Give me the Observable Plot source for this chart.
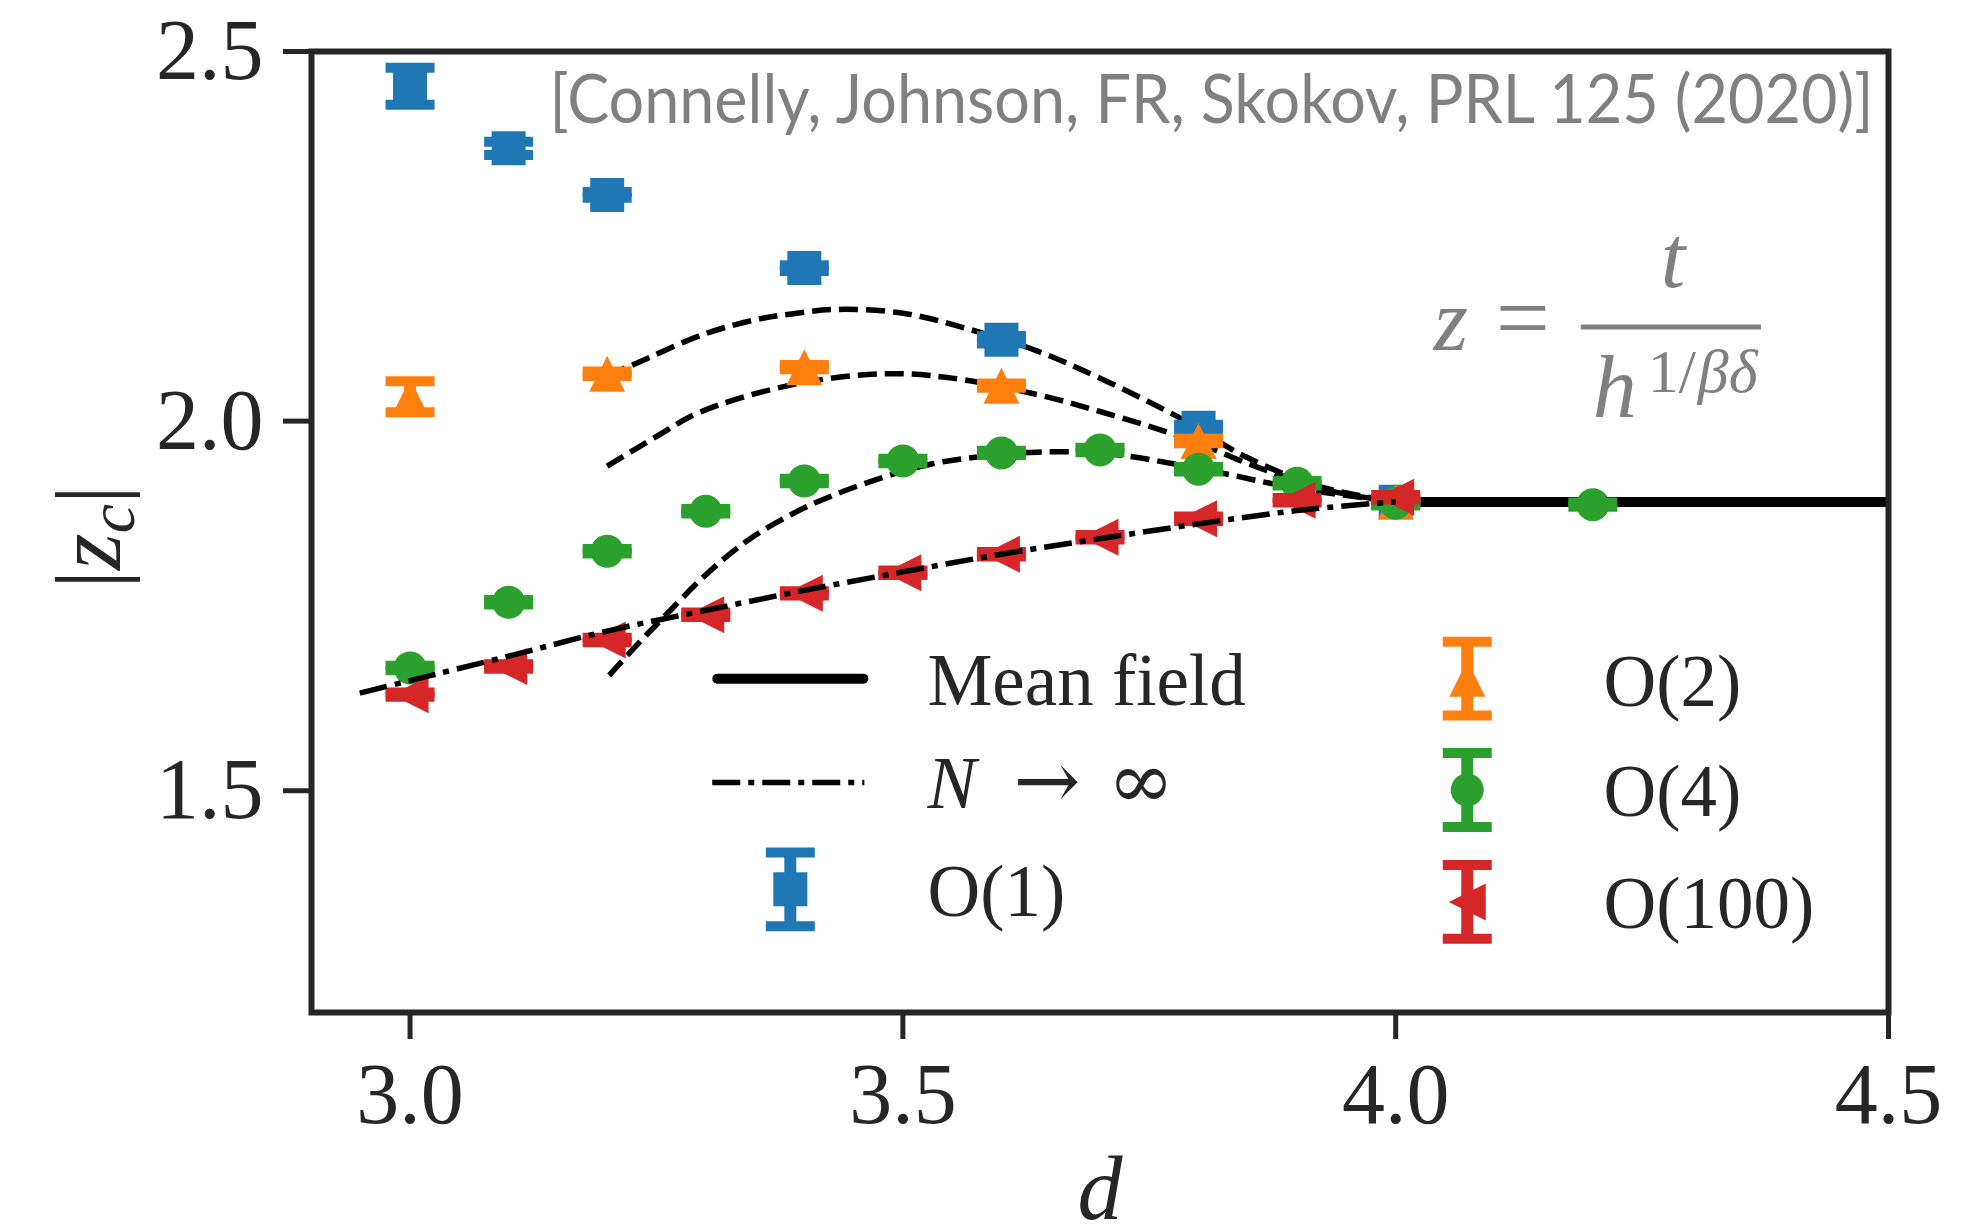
<!DOCTYPE html>
<html><head><meta charset="utf-8">
<script src="https://cdn.jsdelivr.net/npm/d3@7"></script>
<script src="https://cdn.jsdelivr.net/npm/@observablehq/plot@0.6"></script>
<style>
html,body{margin:0;padding:0;background:#fff;}
#chart{width:1968px;height:1224px;}
</style></head><body><div id="chart"></div>
<script>
// ---------- data ----------
const xTicks = [3.0, 3.5, 4.0, 4.5];
const yTicks = [1.5, 2.0, 2.5];

const o1D = [3.0, 3.1, 3.2, 3.4, 3.6, 3.8, 4.0];
const o1Z = [2.453, 2.369, 2.306, 2.207, 2.110, 1.991, 1.891];
const o1E = [0.025, 0.009, 0.004, 0.004, 0.005, 0.004, 0.003];

const o2D = [3.0, 3.2, 3.4, 3.6, 3.8, 4.0];
const o2Z = [2.033, 2.064, 2.073, 2.048, 1.973, 1.891];
const o2E = [0.021, 0.003, 0.003, 0.003, 0.003, 0.003];

const o4D = [3.0, 3.1, 3.2, 3.3, 3.4, 3.5, 3.6, 3.7, 3.8, 3.9, 4.0, 4.2];
const o4Z = [1.666, 1.755, 1.824, 1.878, 1.919, 1.946, 1.957, 1.961, 1.935, 1.916, 1.889, 1.887];
const o4E = [0.003, 0.003, 0.003, 0.003, 0.003, 0.003, 0.003, 0.003, 0.003, 0.003, 0.003, 0.003];

const o100D = [3.0, 3.1, 3.2, 3.3, 3.4, 3.5, 3.6, 3.7, 3.8, 3.9, 4.0];
const o100Z = [1.630, 1.668, 1.704, 1.738, 1.767, 1.795, 1.820, 1.843, 1.868, 1.893, 1.897];
const o100E = [0.003, 0.003, 0.003, 0.003, 0.003, 0.003, 0.003, 0.003, 0.003, 0.003, 0.003];

const meanFieldD = [4.0, 4.5];
const meanFieldZ = [1.8905, 1.8905];

const largeND = [2.949, 3.0, 3.1, 3.2, 3.3, 3.4, 3.5, 3.6, 3.7, 3.8, 3.9, 4.0];
const largeNZ = [1.632, 1.649, 1.682, 1.716, 1.744, 1.771, 1.796, 1.820, 1.841, 1.861, 1.879, 1.891];

const fit1D = [3.2, 3.224, 3.297, 3.35, 3.387, 3.43, 3.5, 3.568, 3.636, 3.70, 3.78, 3.849, 3.924, 4.0];
const fit1Z = [2.062, 2.075, 2.117, 2.137, 2.145, 2.151, 2.146, 2.124, 2.095, 2.058, 2.005, 1.951, 1.911, 1.891];

const fit2D = [3.2, 3.251, 3.294, 3.387, 3.48, 3.545, 3.636, 3.70, 3.786, 3.861, 3.936, 4.0];
const fit2Z = [1.939, 1.980, 2.012, 2.049, 2.064, 2.059, 2.036, 2.013, 1.977, 1.937, 1.905, 1.891];

const fit3D = [3.202, 3.23, 3.259, 3.30, 3.344, 3.39, 3.43, 3.48, 3.529, 3.58, 3.636, 3.707, 3.8, 3.9, 4.0];
const fit3Z = [1.656, 1.697, 1.737, 1.792, 1.840, 1.876, 1.900, 1.924, 1.942, 1.952, 1.958, 1.956, 1.936, 1.909, 1.891];

const seriesNames = ["O(1)", "O(2)", "O(4)", "O(100)"];
const citation = "[Connelly, Johnson, FR, Skokov, PRL 125 (2020)]";

// ---------- helpers ----------
const zip = (xs, ys) => xs.map((x, i) => ({x, y: ys[i]}));
const rows = (ds, zs, es) => ds.map((d, i) => ({d, z: zs[i], e: es[i]}));

const symSquare = {draw(c, s) { const r = Math.sqrt(s / Math.PI); c.rect(-r, -r, 2 * r, 2 * r); }};
const symTriUp = {draw(c, s) { const r = Math.sqrt(s / Math.PI); c.moveTo(0, -r); c.lineTo(r, r); c.lineTo(-r, r); c.closePath(); }};
const symTriLeft = {draw(c, s) { const r = Math.sqrt(s / Math.PI); c.moveTo(-r, 0); c.lineTo(r, -r); c.lineTo(r, r); c.closePath(); }};
const symCap = {draw(c, s) { c.rect(-24.5, -5, 49, 10); }};

const styles = [
  {color: "#1f77b4", symbol: symSquare, r: 17},
  {color: "#ff7f0e", symbol: symTriUp, r: 18},
  {color: "#2ca02c", symbol: "circle", r: 16.5},
  {color: "#d62728", symbol: symTriLeft, r: 18.5}
];
const seriesData = [rows(o1D, o1Z, o1E), rows(o2D, o2Z, o2E), rows(o4D, o4Z, o4E), rows(o100D, o100Z, o100E)];

function errorbarMarks(data, st) {
  return [
    Plot.ruleX(data, {x: "d", y1: r => r.z - r.e, y2: r => r.z + r.e, stroke: st.color, strokeWidth: 12}),
    Plot.dot(data, {x: "d", y: r => r.z + r.e, symbol: symCap, r: 1, fill: st.color}),
    Plot.dot(data, {x: "d", y: r => r.z - r.e, symbol: symCap, r: 1, fill: st.color}),
    Plot.dot(data, {x: "d", y: "z", symbol: st.symbol, r: st.r, fill: st.color})
  ];
}

// legend layout (data coordinates)
const legendSeriesPos = [
  {x: 3.3858, y: 1.3666, tx: 3.5249, ty: 1.331},
  {x: 4.0726, y: 1.6516, tx: 4.2109, ty: 1.6149},
  {x: 4.0726, y: 1.501, tx: 4.2109, ty: 1.4653},
  {x: 4.0726, y: 1.3496, tx: 4.2109, ty: 1.3144}
];
const one = [0];
const dark = "#262626";
const gray = "#808080";

const legendMarks = legendSeriesPos.flatMap((p, i) => {
  const st = styles[i];
  const e = 0.05;
  return [
    Plot.ruleX(one, {x: () => p.x, y1: () => p.y - e, y2: () => p.y + e, stroke: st.color, strokeWidth: 12}),
    Plot.dot(one, {x: () => p.x, y: () => p.y + e, symbol: symCap, r: 1, fill: st.color}),
    Plot.dot(one, {x: () => p.x, y: () => p.y - e, symbol: symCap, r: 1, fill: st.color}),
    Plot.dot(one, {x: () => p.x, y: () => p.y, symbol: st.symbol, r: st.r, fill: st.color}),
    Plot.text(one, {x: () => p.tx, y: () => p.ty, text: () => seriesNames[i], textAnchor: "start", lineAnchor: "bottom", fontSize: 73, fill: dark})
  ];
});

const dashed = {stroke: "black", strokeWidth: 5.5, strokeDasharray: "19,8", strokeLinecap: "butt", curve: "catmull-rom"};

const chart = Plot.plot({
  width: 1968,
  height: 1224,
  marginLeft: 311,
  marginRight: 80,
  marginTop: 51,
  marginBottom: 212,
  style: {fontFamily: "'Liberation Serif', serif", background: "white", overflow: "visible"},
  x: {domain: [2.9, 4.5]},
  y: {domain: [1.2, 2.5]},
  marks: [
    Plot.line(zip(meanFieldD, meanFieldZ), {x: "x", y: "y", stroke: "black", strokeWidth: 10, strokeLinecap: "butt"}),
    Plot.line(zip(fit1D, fit1Z), {x: "x", y: "y", ...dashed}),
    Plot.line(zip(fit2D, fit2Z), {x: "x", y: "y", ...dashed}),
    Plot.line(zip(fit3D, fit3Z), {x: "x", y: "y", ...dashed}),
    ...seriesData.flatMap((data, i) => errorbarMarks(data, styles[i])),
    Plot.line(zip(largeND, largeNZ), {x: "x", y: "y", stroke: "black", strokeWidth: 5.5, strokeDasharray: "28,8,6,8", strokeLinecap: "butt", curve: "catmull-rom"}),

    // legend: line entries
    Plot.link(one, {x1: () => 3.3117, x2: () => 3.4599, y1: () => 1.6514, y2: () => 1.6514, stroke: "black", strokeWidth: 10, strokeLinecap: "round"}),
    Plot.text(one, {x: () => 3.5249, y: () => 1.6162, text: () => "Mean field", textAnchor: "start", lineAnchor: "bottom", fontSize: 73, fill: dark}),
    Plot.link(one, {x1: () => 3.3066, x2: () => 3.4609, y1: () => 1.5112, y2: () => 1.5112, stroke: "black", strokeWidth: 5.5, strokeDasharray: "28,8,6,8", strokeLinecap: "butt"}),
    Plot.text(one, {x: () => 3.5249, y: () => 1.477, text: () => "N", textAnchor: "start", lineAnchor: "bottom", fontSize: 73, fontStyle: "italic", fill: dark}),
    Plot.text(one, {x: () => 3.6122, y: () => 1.477, text: () => "→", textAnchor: "start", lineAnchor: "bottom", fontSize: 80, fontFamily: "'DejaVu Serif', serif", fill: dark}),
    Plot.text(one, {x: () => 3.7076, y: () => 1.477, text: () => "∞", textAnchor: "start", lineAnchor: "bottom", fontSize: 80, fontFamily: "'DejaVu Serif', serif", fill: dark}),
    ...legendMarks,

    // formula z = t / h^{1/βδ}
    Plot.text(one, {x: () => 4.0386, y: () => 2.0959, text: () => "z", textAnchor: "start", lineAnchor: "bottom", fontSize: 88, fontStyle: "italic", fill: gray}),
    Plot.text(one, {x: () => 4.1016, y: () => 2.0959, text: () => "=", textAnchor: "start", lineAnchor: "bottom", fontSize: 96, fill: gray}),
    Plot.link(one, {x1: () => 4.1878, x2: () => 4.3706, y1: () => 2.1274, y2: () => 2.1274, stroke: gray, strokeWidth: 5}),
    Plot.text(one, {x: () => 4.2812, y: () => 2.1811, text: () => "t", textAnchor: "middle", lineAnchor: "bottom", fontSize: 88, fontStyle: "italic", fill: gray}),
    Plot.text(one, {x: () => 4.2, y: () => 2.0054, text: () => "h", textAnchor: "start", lineAnchor: "bottom", fontSize: 88, fontStyle: "italic", fill: gray}),
    Plot.text(one, {x: () => 4.2558, y: () => 2.0392, text: () => "1/", textAnchor: "start", lineAnchor: "bottom", fontSize: 62, fill: gray}),
    Plot.text(one, {x: () => 4.3065, y: () => 2.0392, text: () => "βδ", textAnchor: "start", lineAnchor: "bottom", fontSize: 62, fontStyle: "italic", fill: gray}),

    // citation
    Plot.text(one, {frameAnchor: "top-right", dx: -15, dy: 71, text: () => citation, textAnchor: "end", lineAnchor: "bottom", fontSize: 68, fontFamily: "Lato, sans-serif", fill: gray}),

    // x axis title
    Plot.text(one, {frameAnchor: "bottom", dy: 206, text: () => "d", lineAnchor: "bottom", fontSize: 90, fontStyle: "italic", fill: dark}),

    Plot.axisX({ticks: xTicks, tickFormat: d3.format(".1f"), tickSize: 27, tickPadding: 22, fontSize: 86, strokeWidth: 5, color: dark, label: null}),
    Plot.axisY({ticks: yTicks, tickFormat: d3.format(".1f"), tickSize: 28, tickPadding: 20, fontSize: 86, strokeWidth: 5, color: dark, label: null}),
    Plot.frame({stroke: dark, strokeWidth: 6})
  ]
});

document.getElementById("chart").appendChild(chart);

// squeeze the citation to the reference's width
const svg = d3.select(chart);
svg.selectAll("text").filter(function() { return this.textContent === citation; })
  .attr("textLength", 1324).attr("lengthAdjust", "spacingAndGlyphs");

// y-axis title |z_c|
const yl = svg.append("text")
  .attr("transform", "translate(120,537) rotate(-90)")
  .attr("text-anchor", "middle")
  .attr("font-family", "'Liberation Serif', serif")
  .attr("font-size", 94)
  .attr("fill", dark);
yl.append("tspan").text("|");
yl.append("tspan").attr("font-style", "italic").text("z");
yl.append("tspan").attr("font-style", "italic").attr("font-size", 66).attr("dy", 14).text("c");
yl.append("tspan").attr("dy", -14).text("|");
</script>
</body></html>
